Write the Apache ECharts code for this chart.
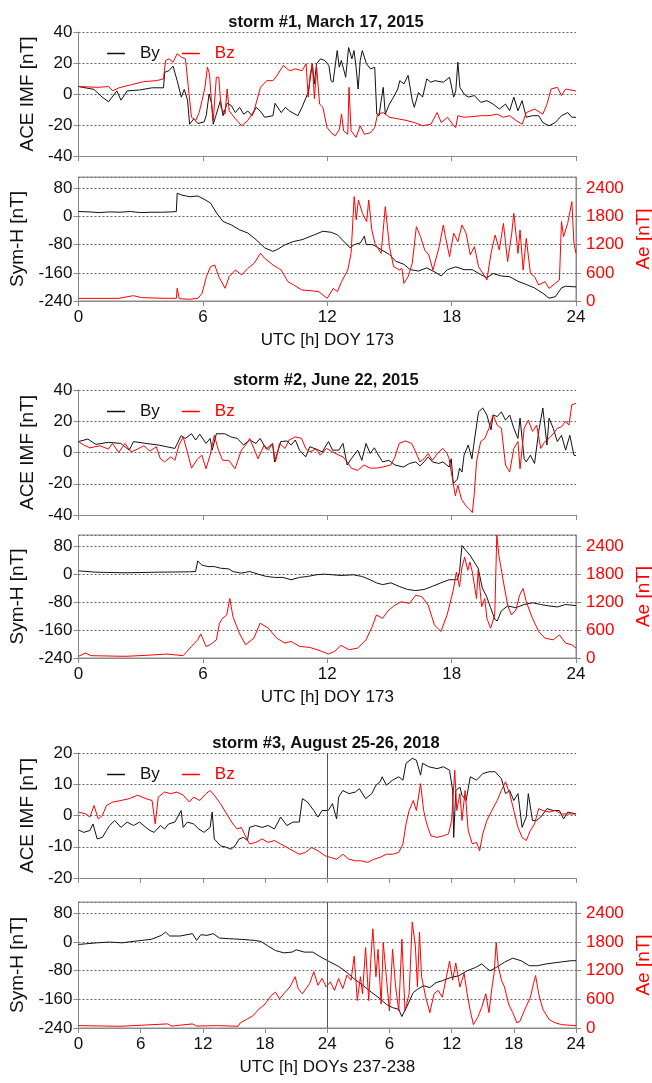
<!DOCTYPE html>
<html><head><meta charset="utf-8">
<script src="https://cdn.jsdelivr.net/npm/echarts@6/dist/echarts.min.js"></script>
<style>html,body{margin:0;padding:0;background:#fff}#c{width:652px;height:1083px}</style>
</head><body><div id="c"></div>
<script>
// ---------- data: [UTC hour, value] ----------
const titles = ['storm #1, March 17, 2015','storm #2, June 22, 2015','storm #3, August 25-26, 2018'];
const xNames = ['UTC [h] DOY 173','UTC [h] DOY 173','UTC [h] DOYs 237-238'];

const s1By = [[0,4.8],[0.74,3],[1.14,-2],[1.45,-5],[1.85,2],[2.05,-4],[2.35,2],[2.95,2.6],[3.55,4],[4.1,4],[4.16,14],[4.36,15],[4.56,18],[4.76,8.6],[4.96,-2],[5.1,3],[5.26,-4],[5.36,-19.5],[5.56,-16],[5.76,-19],[6.06,-18],[6.16,-14],[6.3,0],[6.42,-6],[6.5,-19.5],[6.65,-13],[6.85,-4],[6.97,-14],[7.17,-6],[7.37,-7.5],[7.57,-12],[7.77,-8.6],[7.97,-13],[8.17,-11],[8.37,-14],[8.57,-8.6],[8.77,-11],[8.98,-15],[9.38,-14],[9.48,-6],[9.78,-12],[9.98,-8.6],[10.18,-11],[10.58,-14],[10.78,-8.6],[11.08,1],[11.28,19.5],[11.38,6.5],[11.48,19.5],[11.68,22.7],[11.88,21.6],[12.08,18.4],[12.18,8.6],[12.28,7.6],[12.48,28],[12.58,17.3],[12.68,21.6],[12.89,10.8],[13.03,30],[13.19,22.7],[13.29,28],[13.39,17.3],[13.49,3.2],[13.59,21.6],[13.69,28],[13.89,19.5],[14.09,16.2],[14.29,17.3],[14.39,-13],[14.5,-14],[14.6,-4.3],[14.7,4.3],[14.8,-13],[15.0,-6.5],[15.2,-2],[15.4,3.2],[15.5,8.6],[15.7,6.5],[15.9,12],[16.1,-4],[16.2,-8.6],[16.4,1],[16.6,-2],[16.8,9.7],[17.0,7.6],[17.2,8.6],[17.6,7.6],[17.9,10.8],[18.1,-2],[18.2,2],[18.3,20.5],[18.4,4.3],[18.6,0],[18.8,-2],[19.1,-1],[19.4,-5.4],[19.7,-4.3],[20.0,-6.5],[20.3,-9.7],[20.6,-6.5],[20.8,-10.8],[21.0,-2],[21.2,-10.8],[21.4,-4.3],[21.6,-15],[21.9,-14],[22.2,-14],[22.4,-18.4],[22.7,-20.5],[23.0,-18.4],[23.3,-14],[23.6,-12],[23.8,-15],[24,-15]];
const s1Bz = [[0,4.8],[0.95,4.3],[1.45,4.8],[1.65,2],[1.95,4],[2.55,6],[3.15,8],[3.75,8.6],[4.1,9.7],[4.2,21.6],[4.36,22.7],[4.56,20.5],[4.76,26],[4.96,23.8],[5.16,22.7],[5.3,4.3],[5.45,-15],[5.66,-17],[5.82,-12],[5.96,-4.3],[6.1,4.3],[6.22,17.3],[6.32,13],[6.42,-6.5],[6.5,-17],[6.65,10.8],[6.77,10.8],[6.87,-8.6],[7.07,-13],[7.17,3.2],[7.27,-10.8],[7.57,-16],[7.87,-20.5],[8.17,-17],[8.47,-10.8],[8.78,4.3],[9.08,8.6],[9.38,8.6],[9.58,12],[9.88,18.4],[10.18,15],[10.48,16.2],[10.78,15],[10.98,19.5],[11.08,-2],[11.18,13],[11.28,19.5],[11.38,-3],[11.49,17.3],[11.63,-6.5],[11.79,-8.6],[11.99,-21.6],[12.19,-25],[12.39,-27],[12.59,-22.7],[12.69,-13],[12.79,-23.8],[12.99,-26],[13.05,4.3],[13.15,-23.8],[13.39,-28],[13.59,-20.5],[13.79,-26],[14.09,-25],[14.29,-21.6],[14.43,-13],[14.7,-12],[15.0,-15],[15.4,-16],[15.8,-17],[16.2,-18.4],[16.6,-20.5],[17.0,-19.5],[17.3,-12],[17.5,-18.4],[17.8,-15],[18.1,-20.5],[18.2,-21.6],[18.3,-14],[18.6,-15],[19.0,-14.6],[19.4,-14],[19.8,-14],[20.2,-13],[20.5,-15],[20.8,-14],[21.1,-17],[21.4,-19.5],[21.6,-12],[22.0,-9.7],[22.4,-13],[22.6,-6.5],[22.8,3.2],[23.1,4.3],[23.3,-1],[23.5,3.2],[24,2]];
const s1Sym = [[0,14],[0.5,13],[1,11],[1.5,13],[2,12],[2.5,14],[3,11],[3.5,12],[4,12],[4.5,13],[4.72,14],[4.76,66],[4.96,61],[5.36,56],[5.76,58],[6.06,49],[6.37,38],[6.67,9],[6.97,-14],[7.37,-24],[7.77,-38],[8.17,-47],[8.57,-66],[8.98,-89],[9.38,-99],[9.58,-94],[9.98,-80],[10.38,-71],[10.78,-66],[11.38,-52],[11.79,-42],[12.19,-45],[12.49,-52],[12.8,-71],[13.1,-89],[13.3,-80],[13.6,-75],[13.79,-56],[13.88,-80],[14.2,-80],[14.6,-94],[15.0,-108],[15.3,-127],[15.7,-136],[16.0,-151],[16.4,-155],[16.8,-146],[17.2,-158],[17.5,-169],[17.8,-151],[18.2,-143],[18.6,-151],[19.0,-151],[19.4,-165],[19.7,-174],[20.0,-162],[20.4,-169],[20.8,-171],[21.2,-184],[21.6,-193],[22.0,-203],[22.4,-218],[22.7,-232],[23.0,-228],[23.3,-203],[23.5,-198],[24,-200]];
const s1Ae = [[0,57],[1.95,57],[2.65,114],[3.05,71],[4.16,57],[4.72,57],[4.76,270],[4.86,50],[5.36,36],[5.76,57],[5.96,163],[6.17,518],[6.37,731],[6.57,767],[6.77,518],[7.07,270],[7.27,518],[7.57,660],[7.87,554],[8.17,696],[8.47,802],[8.78,1015],[8.98,909],[9.38,767],[9.78,660],[10.1,412],[10.38,341],[10.78,234],[11.18,220],[11.59,199],[11.89,92],[12.0,57],[12.29,270],[12.49,199],[12.69,412],[12.99,660],[13.15,1015],[13.3,2222],[13.4,1725],[13.5,2151],[13.7,1867],[13.9,1690],[14.0,2151],[14.15,1512],[14.3,1228],[14.6,1015],[14.8,2009],[15.0,1157],[15.2,731],[15.5,660],[15.6,696],[15.7,376],[15.9,518],[16.1,802],[16.3,1583],[16.5,1370],[16.7,1086],[16.9,980],[17.1,660],[17.4,1157],[17.6,1619],[17.7,1370],[17.9,944],[18.1,1441],[18.3,1264],[18.5,1619],[18.7,1441],[18.9,980],[19.1,1157],[19.3,731],[19.5,589],[19.7,447],[19.9,1015],[20.1,1406],[20.3,1086],[20.5,1654],[20.7,838],[20.9,1441],[21.0,1867],[21.2,1015],[21.3,1512],[21.45,660],[21.6,1335],[21.8,589],[22.0,518],[22.2,341],[22.5,412],[22.7,270],[23.0,376],[23.2,447],[23.3,1690],[23.4,1370],[23.6,1654],[23.8,2115],[23.9,1228],[24,1015]];

const s2By = [[0,7],[0.45,8.6],[0.84,5.2],[1.44,6.5],[2.04,5.8],[2.45,1.5],[2.65,7],[3.25,5.8],[3.85,4.8],[4.25,3.7],[4.65,2.6],[4.95,10.8],[5.15,9],[5.45,12],[5.65,8],[5.85,11.7],[6.15,5.8],[6.35,9],[6.45,1.5],[6.65,12],[7.05,12],[7.35,10],[7.66,9],[7.96,4.8],[8.26,8],[8.56,5.8],[8.76,9],[9.06,2.2],[9.36,5.8],[9.46,-6],[9.76,7],[10.06,7.4],[10.26,4.8],[10.46,8],[10.66,1.5],[10.96,-2.8],[11.16,3.7],[11.46,2.2],[11.76,0.4],[12.06,7],[12.26,1.5],[12.56,1.5],[12.76,5.8],[12.96,-8],[13.16,-4],[13.47,1.5],[13.67,-5],[13.87,5.8],[14.07,-0.6],[14.27,3],[14.47,-1.7],[14.67,-6],[14.97,-5],[15.27,-8],[15.67,-9.3],[15.97,-7],[16.27,-6],[16.47,-8.6],[16.67,-6],[16.87,-2.8],[17.07,-6],[17.38,-7],[17.58,-6],[17.88,-9.3],[17.98,-4],[18.08,-20],[18.28,-17],[18.38,-10],[18.5,-12.5],[18.6,-1.7],[18.8,4.8],[18.98,-4],[19.1,8],[19.3,26],[19.5,28.5],[19.7,24],[19.9,14.5],[20.0,24],[20.2,23],[20.4,26],[20.6,20.7],[20.8,24],[21.0,15.5],[21.2,9],[21.3,22],[21.5,-4],[21.6,-6],[21.8,-1.7],[22.0,-7],[22.2,13.5],[22.4,28.5],[22.6,4.8],[22.7,22],[22.9,15.5],[23.1,7],[23.3,11],[23.5,1.5],[23.7,11],[23.9,-1.7],[24,-2]];
const s2Bz = [[0,7],[0.25,4.8],[0.55,3],[1.04,4.3],[1.44,2.2],[1.64,5.8],[1.94,0],[2.24,5.8],[2.54,0.4],[2.85,2.2],[3.15,4.3],[3.45,0.9],[3.75,3.7],[3.95,-4],[4.15,-6],[4.45,-2.8],[4.65,-5],[4.85,4.8],[5.05,10],[5.25,0.4],[5.45,-10],[5.75,-4],[5.95,-1.7],[6.15,-10.4],[6.35,-1.7],[6.55,11],[6.75,1.5],[6.95,-5],[7.25,-5],[7.55,-10.4],[7.86,1.5],[8.06,4.8],[8.26,9],[8.46,2.6],[8.66,-4],[8.96,4.8],[9.16,1.5],[9.36,5.8],[9.5,-6],[9.7,5.8],[9.96,2.6],[10.16,8],[10.46,10],[10.76,9],[10.96,2.6],[11.16,0.4],[11.46,2.2],[11.66,-1.7],[11.96,2.6],[12.26,0.4],[12.56,-1.7],[12.76,-2.8],[12.96,-6],[13.16,-10],[13.47,-11.5],[13.77,-8],[14.07,-10],[14.37,-10],[14.67,-9.3],[15.07,-8],[15.27,-2.8],[15.47,5.8],[15.77,7.4],[16.07,5.8],[16.27,0.4],[16.47,-6],[16.67,-4],[16.87,-0.6],[17.07,-5],[17.38,0.4],[17.58,2.6],[17.78,-0.6],[17.88,-4],[18.04,-17],[18.18,-27.7],[18.3,-21],[18.48,-30],[18.68,-34],[18.88,-36.5],[19.0,-38.5],[19.1,-25.5],[19.2,-6],[19.4,7],[19.6,9],[19.8,15.5],[20.0,24],[20.2,17.5],[20.4,15.5],[20.6,-8],[20.8,-12.5],[21.0,2.6],[21.2,7],[21.3,-10.4],[21.5,15.5],[21.7,20.7],[21.9,13.5],[22.1,17.5],[22.3,2.6],[22.5,7],[22.7,9],[22.9,12],[23.1,15.5],[23.3,16.5],[23.5,20],[23.66,17.5],[23.8,30.5],[24,31.5]];
const s2Sym = [[0,9.4],[0.84,5.6],[2.24,3.8],[3.85,5.6],[5.35,6.6],[5.65,7.5],[5.75,37.6],[5.95,26],[6.25,21.6],[6.55,21.6],[6.85,17],[7.25,15],[7.45,7.5],[7.85,2.8],[8.26,7.5],[8.66,0],[9.06,-6.6],[9.46,-9.4],[9.86,-9.4],[10.26,-16],[10.66,-9.4],[11.06,-6.6],[11.46,-1.9],[11.86,0],[12.26,-1.9],[12.66,-3.8],[13.27,-1.9],[13.67,-6.6],[14.07,-16],[14.37,-25],[14.67,-30],[15.07,-25],[15.47,-35],[15.87,-44],[16.27,-47],[16.67,-44],[17.07,-35],[17.48,-25],[17.88,-16],[18.28,-16],[18.38,7.5],[18.5,82],[18.68,68],[18.88,54.6],[19.08,35.8],[19.28,17],[19.48,-39.5],[19.68,-63],[19.88,-96],[20.08,-129],[20.2,-134],[20.4,-105],[20.7,-91],[21.1,-96],[21.5,-87],[21.9,-82],[22.3,-87],[22.7,-91],[23.1,-94],[23.5,-87],[24,-90]];
const s2Ae = [[0,36],[0.34,106],[0.6,50],[2.24,36],[3.25,57],[4.25,85],[5.05,50],[5.45,249],[5.75,390],[5.9,518],[6.15,249],[6.35,284],[6.65,390],[6.8,746],[6.95,852],[7.15,923],[7.3,1278],[7.45,888],[7.76,533],[8.06,284],[8.46,426],[8.76,746],[9.16,639],[9.56,426],[9.96,320],[10.26,355],[10.66,249],[11.16,227],[11.66,156],[12.06,85],[12.36,142],[12.66,270],[13.06,178],[13.47,213],[13.87,390],[14.17,675],[14.37,923],[14.67,852],[14.97,1030],[15.27,1136],[15.57,1207],[15.97,1172],[16.27,1349],[16.57,1314],[16.87,1136],[17.17,710],[17.48,568],[17.78,923],[18.08,1456],[18.23,1846],[18.38,1527],[18.5,1953],[18.63,2166],[18.78,1882],[18.88,2059],[19.0,1846],[19.2,1278],[19.28,1882],[19.45,1101],[19.6,1278],[19.7,852],[19.88,639],[20.08,923],[20.18,2640],[20.28,2201],[20.5,1633],[20.7,1136],[20.88,923],[21.1,1030],[21.28,1349],[21.45,1491],[21.6,1207],[21.9,852],[22.2,568],[22.5,426],[22.9,390],[23.2,497],[23.5,320],[23.8,284],[24,213]];

const s3By = [[0,-4.6],[0.5,-5.4],[1.1,-4.8],[1.4,-2.7],[1.8,-7.5],[2.3,-7],[2.7,-4.8],[3.0,-3.2],[3.5,-1.6],[4.1,-3.8],[4.7,-2.1],[5.3,-3.2],[5.9,-2.1],[6.5,-3.8],[6.9,-4.8],[7.3,-5.4],[7.9,-3.2],[8.3,-4.3],[8.7,-2.7],[9.3,-2.1],[9.9,1.6],[10.1,-3.8],[10.5,-2.1],[11.1,-2.7],[11.6,-4.3],[12.1,-5.4],[12.7,-3.8],[12.9,1.1],[13.1,-7.5],[13.7,-9.7],[14.3,-10.2],[14.7,-10.8],[15.1,-9.7],[15.5,-7.5],[15.9,-7],[16.3,-8],[16.5,-3.8],[17.1,-3.2],[17.7,-3.8],[18.3,-3.2],[18.9,-4.3],[19.5,-0.5],[20.1,-3.2],[20.7,-2.1],[21.3,-2.1],[21.6,5.4],[22.1,4.3],[22.7,1.6],[23.1,-0.5],[23.5,1.6],[24.1,1.6],[24.5,3.8],[24.9,-1.1],[25.1,5.9],[25.5,8],[26.1,7],[26.7,7.5],[27.1,8.6],[27.7,5.4],[28.3,7],[28.7,9.7],[29.1,10.8],[29.3,12.4],[29.7,9.7],[30.3,11.3],[30.9,12.4],[31.3,11.3],[31.6,16.7],[32.2,18.3],[32.6,17.7],[33.0,12.9],[33.2,16.7],[33.8,15.6],[34.6,15],[35.2,15.6],[35.8,14.5],[36.1,8],[36.2,-7],[36.4,8],[36.8,9.1],[37.0,6.5],[37.4,4.8],[37.8,12.4],[38.4,11.3],[39.0,13.4],[39.6,14],[40.2,14],[40.8,11.8],[41.2,7],[41.6,8],[42.0,4.8],[42.4,7],[42.8,-3.8],[43.2,-0.5],[43.4,7],[43.8,-1.6],[44.2,-1.6],[44.6,-0.5],[45.2,2.2],[45.8,1.6],[46.4,1.6],[46.8,-1.1],[47.2,1.1],[48,0.5]];
const s3Bz = [[0,1.1],[0.7,0.5],[1.1,-0.5],[1.5,3.2],[1.9,-1.1],[2.3,0],[2.7,3.2],[3.3,4.3],[4.1,4.8],[4.9,5.4],[5.7,6.5],[6.5,5.4],[7.1,4.8],[7.4,-2.7],[7.7,5.9],[8.3,7.5],[8.9,7],[9.5,7.5],[10.1,6.5],[10.7,4.3],[11.1,5.9],[11.7,4.8],[12.3,7],[12.7,8],[13.1,6.5],[13.7,3.8],[14.3,0.5],[14.9,-2.7],[15.3,-4.3],[15.7,-3.8],[16.1,-6.5],[16.5,-9.1],[17.1,-8.6],[17.7,-7.5],[18.3,-8.6],[18.9,-8],[19.5,-9.1],[20.1,-10.2],[20.7,-11.3],[21.3,-12.4],[21.9,-11.8],[22.5,-10.2],[23.1,-11.3],[23.8,-12.9],[24.3,-13.4],[24.9,-14],[25.5,-12.4],[26.1,-14],[26.7,-14.5],[27.3,-14.5],[27.9,-15],[28.5,-14],[29.1,-13.4],[29.7,-12.4],[30.3,-12.4],[30.9,-11.8],[31.3,-9.1],[31.6,-2.7],[31.9,1.6],[32.3,4.8],[32.6,1.6],[33.0,10.2],[33.3,1.6],[33.6,-2.7],[34.0,-6.5],[34.6,-7],[35.2,-6.5],[35.7,-5.9],[36.0,-1.6],[36.3,14.5],[36.5,1.6],[36.8,7],[37.0,-1.6],[37.3,8],[37.6,-4.8],[38.0,-9.1],[38.4,-8.6],[38.7,-11.3],[39.0,-5.9],[39.4,-1.6],[39.8,1.1],[40.4,4.8],[40.8,8],[41.2,10.8],[41.6,7],[42.0,1.6],[42.4,-3.8],[42.8,-7],[43.2,-8],[43.6,-4.8],[44.0,-2.7],[44.4,2.2],[44.8,1.6],[45.4,1.1],[46.0,1.6],[46.6,0.5],[47.2,0.5],[48,0.5]];
const s3Sym = [[0,-6.6],[1.8,-2],[3.0,0],[4.2,-2],[5.8,3.8],[7.0,7.5],[8.0,18.8],[8.4,28],[8.8,17],[9.8,17],[11.0,23.5],[11.4,4.7],[11.8,20.7],[12.4,18.8],[13.0,23.5],[13.6,11.3],[14.6,9.4],[15.8,7.5],[17.0,4.7],[17.6,1.9],[18.2,-9.4],[19.0,-23.5],[19.8,-30],[20.6,-28],[21.0,-21.6],[21.8,-28],[22.6,-28],[23.4,-42],[24.2,-54.6],[25.1,-68],[25.9,-85],[26.7,-105],[27.5,-122],[28.3,-141],[29.1,-158],[29.7,-174],[30.3,-183],[30.9,-188],[31.2,-208],[31.7,-179],[32.3,-141],[32.7,-132],[33.3,-122],[33.9,-127],[34.5,-113],[35.1,-108],[35.9,-99],[36.7,-94],[37.5,-80],[38.3,-71],[38.9,-61],[39.3,-71],[39.7,-80],[40.3,-71],[41.1,-56],[41.9,-45],[42.7,-52],[43.5,-66],[44.3,-66],[45.1,-61],[45.9,-58],[46.7,-55],[47.5,-52],[48,-52]];
const s3Ae = [[0,50],[4,36],[8.6,86],[9,40],[11,86],[11.4,40],[13.4,50],[15.4,36],[15.6,107],[16.2,179],[16.8,251],[17.4,394],[18.0,501],[18.6,680],[19.0,752],[19.4,609],[19.8,716],[20.4,860],[20.9,1075],[21.2,824],[21.6,716],[22.3,931],[22.7,1182],[23.1,895],[23.5,1039],[23.9,860],[24.3,967],[24.7,788],[25.1,1039],[25.5,824],[25.9,1110],[26.3,1003],[26.6,1504],[26.9,573],[27.2,1075],[27.4,716],[27.7,1684],[28.0,573],[28.2,1433],[28.4,2078],[28.7,1075],[28.9,1648],[29.2,501],[29.4,1791],[29.7,1075],[30.0,358],[30.3,1648],[30.6,860],[30.9,358],[31.2,1863],[31.5,358],[31.9,716],[32.2,2221],[32.5,1719],[32.7,860],[32.9,2006],[33.1,1075],[33.5,645],[33.9,322],[34.3,716],[34.7,788],[35.1,645],[35.5,1075],[35.8,1400],[36.1,1003],[36.4,1361],[36.8,860],[37.2,1146],[37.5,716],[37.8,358],[38.1,72],[38.5,215],[38.9,430],[39.3,716],[39.6,322],[39.9,860],[40.1,1146],[40.3,1790],[40.5,1290],[40.8,1003],[41.1,860],[41.5,501],[41.9,322],[42.3,107],[42.6,143],[43.0,358],[43.3,501],[43.6,645],[43.9,931],[44.1,1100],[44.4,716],[44.8,394],[45.4,179],[46.0,107],[46.6,72],[47.2,60],[48,50]];

// ---------- layout ----------
const L = 78.5, R = 76;
const font = 'Liberation Sans, Arial, sans-serif';
const GREY = '#8a8a8a';
const panels = [
  {kind:'imf', top:32, h:124, by:s1By, bz:s1Bz, ymin:-40, ymax:40, yint:20, xmax:24, title:titles[0]},
  {kind:'sym', top:177, h:124, sym:s1Sym, ae:s1Ae, xmax:24, xname:xNames[0]},
  {kind:'imf', top:390, h:125, by:s2By, bz:s2Bz, ymin:-40, ymax:40, yint:20, xmax:24, title:titles[1]},
  {kind:'sym', top:535, h:123, sym:s2Sym, ae:s2Ae, xmax:24, xname:xNames[1]},
  {kind:'imf', top:753, h:125, by:s3By, bz:s3Bz, ymin:-20, ymax:20, yint:10, xmax:48, title:titles[2], mid:true},
  {kind:'sym', top:902, h:126, sym:s3Sym, ae:s3Ae, xmax:48, xname:xNames[2], mid:true}
];
const grid=[], xAxis=[], yAxis=[], series=[], title=[], legend=[];
const tickLbl = {fontSize:17, color:'#111', fontFamily:font};
panels.forEach((p,i)=>{
  const sym = p.kind==='sym';
  grid.push({left:L, right:R, top:p.top, height:p.h, show:sym, borderColor:GREY, borderWidth:1,
    containLabel:false, outerBoundsMode:'none'});
  xAxis.push({type:'value', gridIndex:i, min:0, max:p.xmax, interval:6,
    axisLine:{show:true, onZero:false, lineStyle:{color:GREY}},
    axisTick:{show:true, length:5, lineStyle:{color:GREY}},
    splitLine:{show:false},
    axisLabel:{show:sym, margin:8, ...tickLbl, formatter:v=> (v===0?'0': String(v%24===0?24:v%24))},
    name: sym? p.xname : '', nameLocation:'middle', nameGap:31,
    nameTextStyle:{fontSize:17, color:'#111', fontFamily:font}});
  const yl = {type:'value', gridIndex:i,
    axisLine:{show:true, lineStyle:{color:GREY}},
    axisTick:{show:true, length:5, lineStyle:{color:GREY}},
    splitLine:{show:true, lineStyle:{color:'#666', type:[2,2], width:1}},
    nameLocation:'middle', nameTextStyle:{fontSize:19, color:'#111', fontFamily:font}};
  if(!sym){
    yAxis.push({...yl, min:p.ymin, max:p.ymax, interval:p.yint, axisLabel:{...tickLbl, margin:6, formatter:v=>String(v)},
      name:'ACE IMF [nT]', nameGap:25});
    const yi = yAxis.length-1;
    series.push({type:'line', name:'By', xAxisIndex:i, yAxisIndex:yi, data:p.by, showSymbol:false, symbol:'none',
      lineStyle:{color:'#111', width:1}, itemStyle:{color:'#111'}, animation:false,
      markLine: p.mid? {silent:true, symbol:'none', label:{show:false}, lineStyle:{color:'#555', type:'solid', width:1}, data:[{xAxis:24}]}:undefined});
    series.push({type:'line', name:'Bz', xAxisIndex:i, yAxisIndex:yi, data:p.bz, showSymbol:false, symbol:'none',
      lineStyle:{color:'#ff0000', width:1}, itemStyle:{color:'#ff0000'}, animation:false});
    title.push({text:p.title, left:'center', top:p.top-23, textStyle:{fontSize:16.5, fontWeight:'bold', color:'#111', fontFamily:font}});
    legend.push({left:102, top:p.top+8, itemWidth:18, itemHeight:1.5, itemGap:22, icon:'rect',
      textStyle:{fontSize:17, fontFamily:font, padding:[0,0,0,10]},
      data:[{name:'By', textStyle:{color:'#111'}},{name:'Bz', textStyle:{color:'#ff0000'}}]});
  } else {
    yAxis.push({...yl, min:-240, max:112, interval:80, axisLabel:{...tickLbl, margin:6, showMaxLabel:false, formatter:v=>String(v)},
      name:'Sym-H [nT]', nameGap:50});
    const yi = yAxis.length-1;
    yAxis.push({type:'value', gridIndex:i, position:'right', min:0, max:2640, interval:600,
      axisLine:{show:true, lineStyle:{color:GREY}}, axisTick:{show:true, length:5, lineStyle:{color:GREY}},
      splitLine:{show:false}, axisLabel:{...tickLbl, color:'#ff0000', margin:10, showMaxLabel:false, formatter:v=>String(v)},
      name:'Ae [nT]', nameLocation:'middle', nameGap:56, nameRotate:90, nameTextStyle:{fontSize:19, color:'#ff0000', fontFamily:font}});
    const ri = yAxis.length-1;
    series.push({type:'line', name:'SymH'+i, xAxisIndex:i, yAxisIndex:yi, data:p.sym, showSymbol:false, symbol:'none',
      lineStyle:{color:'#111', width:1}, animation:false,
      markLine: p.mid? {silent:true, symbol:'none', label:{show:false}, lineStyle:{color:'#555', type:'solid', width:1}, data:[{xAxis:24}]}:undefined});
    series.push({type:'line', name:'Ae'+i, xAxisIndex:i, yAxisIndex:ri, data:p.ae, showSymbol:false, symbol:'none',
      lineStyle:{color:'#ff0000', width:1}, animation:false});
  }
});
const chart = echarts.init(document.getElementById('c'), null, {renderer:'canvas'});
chart.setOption({animation:false, backgroundColor:'#fff', title, legend, grid, xAxis, yAxis, series});
</script></body></html>
